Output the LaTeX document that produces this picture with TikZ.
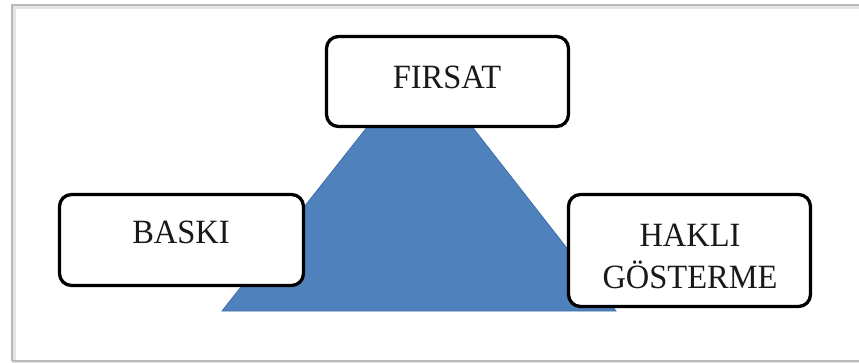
\documentclass[tikz,border=0pt]{standalone}
\usepackage{fontspec}
\setmainfont{Liberation Serif}
\newfontfamily\boxfont{Liberation Serif}[FakeStretch=0.955]
\definecolor{triblue}{HTML}{4F81BD}
\definecolor{triedge}{HTML}{416FA8}
\tikzset{
  labelbox/.style={draw=black, line width=3.3pt, rounded corners=12pt, fill=white, inner sep=0pt},
  labeltext/.style={font=\boxfont\fontsize{34}{42}\selectfont, text=black!90, align=center, inner sep=0pt}
}
\begin{document}
\begin{tikzpicture}[x=1pt,y=-1pt]
\useasboundingbox (0,0) rectangle (859,363);
% outer frame with soft shadow
\draw[gray!20, line width=4pt] (14,363) -- (14,7) -- (859,7);
\draw[gray!20, line width=4pt] (14,363) -- (859,363);
\draw[gray!55, line width=1.2pt] (12,361) -- (12,5) -- (859,5);
\draw[gray!55, line width=1.2pt] (12,361) -- (859,361);
% triangle
\coordinate (apex) at (420,60);
\coordinate (bl) at (222,311);
\coordinate (br) at (616,311);
\filldraw[fill=triblue, draw=triedge, line width=0.8pt] (apex) -- (bl) -- (br) -- cycle;
% boxes
\node[labelbox, minimum width=242pt, minimum height=90pt] (fbox) at (447.5,81.5) {};
\node[labelbox, minimum width=244pt, minimum height=91pt] (bbox) at (181.5,240) {};
\node[labelbox, minimum width=242pt, minimum height=112pt] (hbox) at (689.5,250.5) {};
% texts
\node[labeltext] (ft) at (447,77) {FIRSAT};
\node[labeltext] (bt) at (181,232) {BASKI};
\node[labeltext] (ht) at (690,256) {HAKLI\\GÖSTERME};
\end{tikzpicture}
\end{document}
